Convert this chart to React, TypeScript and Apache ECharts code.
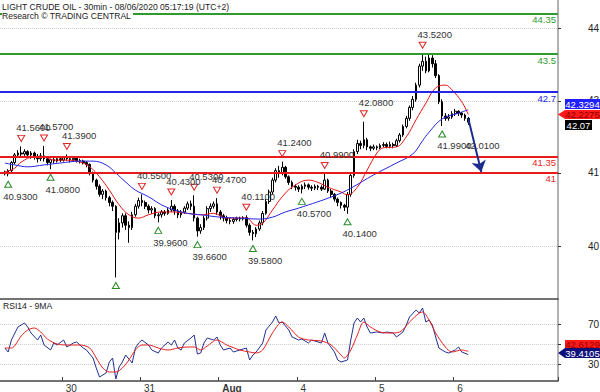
import React, { useEffect, useRef } from "react";
import * as echarts from "echarts";

// ---------- axes / categories ----------
const slotCount = 171;
const dayLabels = ["30", "31", "Aug", "4", "5", "6"];
const dayStarts = [19, 43, 67, 91, 115, 139];
const firstBar = 1;

const priceMin = 38.347;
const priceMax = 44.642;
const priceTickValues = [39.46, 41.0, 42.52, 44.05];
const priceTickLabels = ["40", "41", "43", "44"];

const rsiMin = 13;
const rsiMax = 95;
const rsiTickValues = [30, 50, 70];
const rsiLabelValues = [30, 70];

// ---------- price bars (hourly) ----------
const opens = [
  41.02, 40.98, 41.05, 41.22, 41.38, 41.42, 41.4, 41.45, 41.38, 41.42,
  41.35, 41.3, 41.36, 41.3, 41.22, 41.28, 41.25, 41.3, 41.27, 41.32,
  41.3, 41.28, 41.31, 41.26, 41.25, 41.22, 41.18, 41.0, 40.85, 40.72,
  40.55, 40.62, 40.48, 40.38, 40.3, 39.75, 39.95, 40.1, 39.9, 39.85,
  40.12, 40.3, 40.42, 40.38, 40.3, 40.22, 40.25, 40.1, 40.12, 40.18,
  40.15, 40.22, 40.3, 40.2, 40.12, 40.18, 40.26, 40.35, 40.3, 40.05,
  39.78, 39.85, 40.05, 40.25, 40.3, 40.35, 40.18, 40.1, 40.05, 40.0,
  39.98, 40.02, 40.05, 40.03, 40.06, 39.9, 39.75, 39.72, 39.82, 39.95,
  40.15, 40.4, 40.6, 40.85, 41.05, 41.0, 41.12, 40.92, 40.8, 40.72,
  40.7, 40.66, 40.72, 40.75, 40.7, 40.68, 40.72, 40.7, 40.66, 40.85,
  40.62, 40.55, 40.45, 40.38, 40.32, 40.28, 40.55, 40.95, 41.45, 41.62,
  41.58, 41.7, 41.55, 41.52, 41.55, 41.53, 41.58, 41.6, 41.56, 41.6,
  41.58, 41.68, 41.8, 41.98, 42.15, 42.38, 42.55, 42.85, 43.25, 43.35,
  43.15, 43.42, 43.3, 43.05, 42.5, 42.2, 42.15, 42.18, 42.25, 42.3,
  42.26, 42.22, 42.15,
];
const closes = [
  40.98, 41.05, 41.22, 41.38, 41.42, 41.4, 41.45, 41.38, 41.42, 41.35,
  41.3, 41.36, 41.3, 41.22, 41.28, 41.25, 41.3, 41.27, 41.32, 41.3,
  41.28, 41.31, 41.26, 41.25, 41.22, 41.18, 41.0, 40.85, 40.72, 40.55,
  40.62, 40.48, 40.38, 40.3, 39.75, 39.95, 40.1, 39.9, 39.85, 40.12,
  40.3, 40.42, 40.38, 40.3, 40.22, 40.25, 40.1, 40.12, 40.18, 40.15,
  40.22, 40.3, 40.2, 40.12, 40.18, 40.26, 40.35, 40.3, 40.05, 39.78,
  39.85, 40.05, 40.25, 40.3, 40.35, 40.18, 40.1, 40.05, 40.0, 39.98,
  40.02, 40.05, 40.03, 40.06, 39.9, 39.75, 39.72, 39.82, 39.95, 40.15,
  40.4, 40.6, 40.85, 41.05, 41.0, 41.12, 40.92, 40.8, 40.72, 40.7,
  40.66, 40.72, 40.75, 40.7, 40.68, 40.72, 40.7, 40.66, 40.85, 40.62,
  40.55, 40.45, 40.38, 40.32, 40.28, 40.55, 40.95, 41.45, 41.62, 41.58,
  41.7, 41.55, 41.52, 41.55, 41.53, 41.58, 41.6, 41.56, 41.6, 41.58,
  41.68, 41.8, 41.98, 42.15, 42.38, 42.55, 42.85, 43.25, 43.35, 43.15,
  43.42, 43.3, 43.05, 42.5, 42.2, 42.15, 42.18, 42.25, 42.3, 42.26,
  42.22, 42.15, 42.07,
];
const lows = [
  40.95, 40.93, 41.02, 41.18, 41.32, 41.33, 41.36, 41.33, 41.3, 41.28,
  41.22, 41.25, 41.24, 41.16, 41.08, 41.2, 41.22, 41.23, 41.24, 41.26,
  41.22, 41.24, 41.22, 41.2, 41.18, 41.12, 40.95, 40.8, 40.65, 40.5,
  40.45, 40.42, 40.3, 40.2, 38.8, 39.6, 39.85, 39.8, 39.53, 39.8,
  40.08, 40.25, 40.3, 40.24, 40.15, 40.14, 40.05, 39.96, 40.06, 40.1,
  40.12, 40.18, 40.12, 40.05, 40.06, 40.14, 40.22, 40.22, 39.98, 39.66,
  39.72, 39.8, 40.0, 40.18, 40.25, 40.12, 40.02, 39.98, 39.94, 39.92,
  39.93, 39.98, 39.98, 40.0, 39.85, 39.68, 39.58, 39.65, 39.78, 39.9,
  40.12, 40.35, 40.55, 40.8, 40.9, 40.95, 40.88, 40.75, 40.66, 40.63,
  40.6, 40.57, 40.66, 40.65, 40.62, 40.64, 40.64, 40.62, 40.64, 40.58,
  40.48, 40.4, 40.3, 40.25, 40.2, 40.14, 40.5, 40.9, 41.4, 41.5,
  41.52, 41.48, 41.46, 41.48, 41.48, 41.5, 41.54, 41.52, 41.52, 41.52,
  41.55, 41.64, 41.76, 41.94, 42.1, 42.32, 42.5, 42.8, 43.15, 43.1,
  43.12, 43.22, 43.0, 42.45, 41.99, 42.1, 42.1, 42.14, 42.2, 42.2,
  42.16, 42.1, 42.01,
];
const highs = [
  41.05, 41.08, 41.25, 41.42, 41.48, 41.56, 41.5, 41.48, 41.46, 41.45,
  41.4, 41.42, 41.57, 41.34, 41.3, 41.33, 41.34, 41.33, 41.35, 41.39,
  41.33, 41.34, 41.33, 41.3, 41.28, 41.25, 41.2, 41.03, 40.88, 40.76,
  40.66, 40.65, 40.52, 40.42, 40.32, 40.05, 40.15, 40.15, 39.98, 40.18,
  40.35, 40.48, 40.55, 40.42, 40.34, 40.3, 40.28, 40.16, 40.22, 40.22,
  40.26, 40.43, 40.34, 40.24, 40.22, 40.3, 40.4, 40.42, 40.53, 40.08,
  39.92, 40.1, 40.3, 40.36, 40.4, 40.47, 40.22, 40.14, 40.1, 40.05,
  40.06, 40.08, 40.08, 40.09, 40.11, 39.94, 39.8, 39.86, 40.0, 40.2,
  40.45, 40.65, 40.9, 41.1, 41.15, 41.24, 41.15, 40.95, 40.84, 40.76,
  40.74, 40.76, 40.8, 40.78, 40.74, 40.76, 40.75, 40.74, 40.99, 40.88,
  40.66, 40.58, 40.48, 40.4, 40.35, 40.6, 41.0, 41.5, 41.7, 41.68,
  42.08, 41.74, 41.58, 41.6, 41.58, 41.62, 41.65, 41.64, 41.66, 41.64,
  41.72, 41.84, 42.02, 42.2, 42.42, 42.62, 42.9, 43.3, 43.52, 43.45,
  43.5, 43.48, 43.38, 43.08, 42.55, 42.26, 42.24, 42.3, 42.35, 42.32,
  42.28, 42.25, 42.18,
];

// ---------- moving averages [slot, value] ----------
const redMa = [
  [1, 41.02], [4, 41.1], [6, 41.23], [10, 41.34], [13, 41.34], [16, 41.27], [20, 41.27],
  [24, 41.23], [27, 41.13], [30, 40.92], [33, 40.64], [36, 40.33], [39, 40.12], [42, 40.05],
  [45, 40.12], [49, 40.18], [52, 40.18], [57, 40.15], [61, 40.12], [65, 40.15], [69, 40.05],
  [73, 40.05], [75, 40.05], [78, 39.9], [80, 39.94], [83, 40.22], [86, 40.5], [89, 40.7],
  [94, 40.85], [97, 40.8], [100, 40.7], [104, 40.6], [106, 40.54], [109, 40.7], [112, 41.06],
  [115, 41.42], [117, 41.53], [121, 41.55], [124, 41.76], [127, 42.12], [130, 42.47],
  [133, 42.79], [136, 42.85], [138, 42.75], [141, 42.5], [143, 42.23],
];
const blueMa = [
  [1, 41.21], [4, 41.17], [8, 41.13], [13, 41.17], [18, 41.21], [24, 41.25], [28, 41.25],
  [32, 41.17], [35, 41.0], [38, 40.81], [41, 40.64], [45, 40.5], [49, 40.33], [53, 40.22],
  [57, 40.15], [61, 40.12], [67, 40.07], [73, 40.05], [79, 40.03], [83, 40.07], [87, 40.18],
  [91, 40.26], [102, 40.52], [107, 40.68], [114, 40.96], [121, 41.21], [126, 41.4],
  [129, 41.68], [131, 41.86], [135, 42.14], [140, 42.26], [143, 42.33],
];

// ---------- RSI14 and its 9MA [slot, value] ----------
const rsi14 = [
  [1, 46], [2, 42], [3, 54], [5, 67], [7, 71], [8, 67], [9, 61], [11, 54], [12, 59], [13, 49],
  [15, 44], [16, 51], [17, 49], [19, 54], [20, 47], [22, 51], [23, 52], [25, 46], [26, 44],
  [28, 36], [29, 26], [30, 17], [32, 21], [33, 32], [34, 36], [35, 15], [36, 27], [37, 32],
  [38, 39], [39, 35], [40, 31], [41, 46], [42, 51], [43, 54], [45, 49], [46, 44], [48, 41],
  [49, 46], [51, 52], [52, 49], [53, 54], [54, 46], [55, 44], [56, 51], [58, 56], [59, 59],
  [60, 40], [61, 41], [62, 51], [63, 56], [65, 54], [66, 57], [67, 49], [68, 44], [70, 46],
  [71, 42], [73, 44], [75, 46], [76, 34], [77, 39], [78, 42], [80, 51], [81, 64], [83, 72],
  [84, 78], [85, 71], [86, 72], [88, 64], [89, 57], [91, 54], [92, 55], [94, 51], [95, 54],
  [98, 51], [99, 61], [100, 51], [102, 42], [103, 34], [104, 32], [106, 34], [107, 54],
  [108, 71], [109, 76], [110, 72], [111, 76], [112, 67], [113, 61], [115, 62], [117, 61],
  [118, 62], [120, 61], [121, 57], [123, 62], [124, 69], [125, 77], [127, 84], [128, 81],
  [129, 86], [130, 72], [131, 74], [132, 69], [133, 57], [134, 46], [136, 42], [137, 41],
  [139, 44], [140, 47], [141, 42], [143, 39.41],
];
const rsiMa9 = [
  [1, 46], [3, 46], [6, 58], [8, 64], [10, 66], [12, 62], [14, 55], [17, 50], [20, 49],
  [24, 49], [27, 46], [29, 36], [31, 26], [33, 22], [35, 22], [37, 26], [39, 34], [41, 44],
  [43, 49], [45, 49], [48, 46], [51, 44], [54, 46], [57, 47], [59, 47], [61, 44], [63, 48],
  [66, 54], [69, 49], [73, 44], [76, 42], [78, 41], [80, 44], [83, 61], [86, 72], [88, 67],
  [91, 57], [94, 54], [98, 53], [101, 49], [104, 39], [105, 36], [107, 44], [109, 59],
  [111, 72], [113, 67], [116, 62], [119, 61], [122, 62], [125, 72], [128, 81], [129, 82],
  [131, 74], [133, 61], [136, 47], [138, 42], [141, 44], [143, 42.61],
];

// ---------- annotations ----------
const highMarkers = [
  [6, 41.56], [13, 41.57], [20, 41.39], [43, 40.55], [52, 40.43], [59, 40.53], [66, 40.47],
  [75, 40.11], [86, 41.24], [99, 40.99], [111, 42.08], [129, 43.52],
];
const lowMarkers = [
  [2, 40.93], [15, 41.08], [48, 39.96], [60, 39.66], [77, 39.58], [92, 40.57], [106, 40.14],
  [135, 41.99],
];
const unlabeledLows = [[35, 38.8]];
const hiddenLows = [[143, 42.01]];

const levelValues = [44.35, 43.5, 42.7, 41.35, 41];
const levelLabels = ["44.35", "43.5", "42.7", "41.35", "41"];
const levelColors = ["#2f9a2f", "#2f9a2f", "#2424e8", "#e81c1c", "#e81c1c"];

const forecastFrom = [143, 42.15];
const forecastTo = [147, 41.02];

const priceBoxLabels = ["42.3294", "42.2275", "42.07"];
const rsiBoxLabels = ["42.6129", "39.4105"];

const titleLine1 = "LIGHT CRUDE OIL - 30min - 08/06/2020 05:17:19 (UTC+2)";
const titleLine2 = "Research \u00A9 TRADING CENTRAL";
const rsiTitle = "RSI14 - 9MA";

const FONT = "'Liberation Sans', Arial, sans-serif";
const DOWN_TRI = "path://M0,0 L8,0 L4,7 Z";
const UP_TRI = "path://M4,0 L8,7 L0,7 Z";

function nearestLabel(v: number): string {
  let best = 0;
  for (let i = 1; i < priceTickValues.length; i++) {
    if (Math.abs(priceTickValues[i] - v) < Math.abs(priceTickValues[best] - v)) best = i;
  }
  return priceTickLabels[best];
}

export default function App() {
  const ref = useRef<HTMLDivElement>(null);

  useEffect(() => {
    if (!ref.current) return;
    const chart = echarts.init(ref.current, null, { renderer: "svg" });

    const categories = Array.from({ length: slotCount }, (_, i) => "s" + i);
    const isDay = (i: number) => dayStarts.indexOf(i) >= 0;

    const bars = opens.map((o, i) => [firstBar + i, o, closes[i], lows[i], highs[i]]);

    const markerLabel = {
      show: true,
      position: "inside",
      align: "left",
      color: "#333",
      fontSize: 9.5,
      fontFamily: FONT,
    };

    const markPoints: any[] = [];
    highMarkers.forEach(([k, v]) => {
      markPoints.push({
        coord: [k, v],
        value: v,
        symbol: DOWN_TRI,
        symbolSize: [7, 6],
        symbolOffset: [0, -8],
        itemStyle: { color: "#fff", borderColor: "#e02828", borderWidth: 1 },
        label: { ...markerLabel, formatter: v.toFixed(4), offset: [-5, -11] },
      });
    });
    lowMarkers.forEach(([k, v]) => {
      markPoints.push({
        coord: [k, v],
        value: v,
        symbol: UP_TRI,
        symbolSize: [7, 6],
        symbolOffset: [0, 8],
        itemStyle: { color: "#fff", borderColor: "#2a8a2a", borderWidth: 1 },
        label: { ...markerLabel, formatter: v.toFixed(4), offset: [-5, 12] },
      });
    });
    unlabeledLows.forEach(([k, v]) => {
      markPoints.push({
        coord: [k, v],
        value: v,
        symbol: UP_TRI,
        symbolSize: [7, 6],
        symbolOffset: [0, 8],
        itemStyle: { color: "#fff", borderColor: "#2a8a2a", borderWidth: 1 },
        label: { show: false },
      });
    });
    hiddenLows.forEach(([k, v]) => {
      markPoints.push({
        coord: [k, v],
        value: v,
        symbol: "circle",
        symbolSize: 1,
        symbolOffset: [0, 8],
        itemStyle: { color: "rgba(0,0,0,0)", borderColor: "rgba(0,0,0,0)" },
        label: { ...markerLabel, formatter: v.toFixed(4), offset: [-3, 12] },
      });
    });

    const text = (t: string, x: number, y: number, extra: any = {}) => ({
      type: "text",
      x,
      y,
      z: 100,
      style: {
        text: t,
        fill: "#222",
        fontSize: 8.6,
        fontFamily: FONT,
        ...extra,
      },
    });
    const box = (x: number, y: number, w: number, h: number, fill: string) => ({
      type: "rect",
      z: 100,
      shape: { x, y, width: w, height: h },
      style: { fill },
    });
    const centered = (t: string, x: number, y: number, fill: string) =>
      text(t, x, y, {
        fill,
        fontSize: 9.5,
        align: "center",
        verticalAlign: "middle",
        textAlign: "center",
        textVerticalAlign: "middle",
      });

    const option: any = {
      animation: false,
      textStyle: { fontFamily: FONT },
      grid: [
        { left: 0, right: 42, top: 0, height: 299, outerBoundsMode: "none" },
        { left: 0, right: 42, top: 299, height: 82, outerBoundsMode: "none" },
      ],
      xAxis: [
        {
          type: "category",
          gridIndex: 0,
          data: categories,
          boundaryGap: true,
          axisLine: { show: true, lineStyle: { color: "#444", width: 1.5 } },
          axisTick: { show: false },
          axisLabel: { show: false },
          splitLine: { show: false },
        },
        {
          type: "category",
          gridIndex: 1,
          data: categories,
          boundaryGap: true,
          axisLine: { show: true, lineStyle: { color: "#444", width: 1.5 } },
          axisTick: {
            show: true,
            inside: true,
            length: 4,
            interval: (i: number) => isDay(i),
            lineStyle: { color: "#444" },
          },
          axisLabel: {
            show: true,
            interval: (i: number) => isDay(i),
            formatter: (_v: string, i: number) => {
              const d = dayStarts.indexOf(i);
              if (d < 0) return "";
              return dayLabels[d] === "Aug" ? "{b|Aug}" : dayLabels[d];
            },
            align: "left",
            padding: [0, 0, 0, 2],
            margin: 2,
            fontSize: 10,
            color: "#333",
            rich: { b: { fontWeight: "bold", fontSize: 10, color: "#333" } },
          },
          splitLine: { show: false },
        },
      ],
      yAxis: [
        {
          type: "value",
          gridIndex: 0,
          position: "right",
          min: priceMin,
          max: priceMax,
          axisLine: { show: true, lineStyle: { color: "#999", width: 1.5 } },
          axisTick: {
            show: true,
            length: 3,
            customValues: priceTickValues,
            lineStyle: { color: "#333" },
          },
          axisLabel: {
            show: true,
            customValues: priceTickValues,
            formatter: (v: number) => nearestLabel(v),
            margin: 30,
            fontSize: 10,
            color: "#222",
          },
          splitLine: { show: true, lineStyle: { color: "#cfcfcf", type: "dotted", width: 1 } },
        },
        {
          type: "value",
          gridIndex: 1,
          position: "right",
          min: rsiMin,
          max: rsiMax,
          axisLine: { show: true, lineStyle: { color: "#999", width: 1.5 } },
          axisTick: {
            show: true,
            length: 3,
            customValues: rsiTickValues,
            lineStyle: { color: "#333" },
          },
          axisLabel: {
            show: true,
            customValues: rsiLabelValues,
            margin: 30,
            fontSize: 10,
            color: "#222",
          },
          splitLine: { show: true, lineStyle: { color: "#cfcfcf", type: "dotted", width: 1 } },
        },
      ],
      series: [
        {
          type: "candlestick",
          xAxisIndex: 0,
          yAxisIndex: 0,
          data: bars,
          encode: { x: 0, y: [1, 2, 3, 4] },
          barWidth: "65%",
          itemStyle: {
            color: "#ffffff",
            color0: "#000000",
            borderColor: "#000000",
            borderColor0: "#000000",
            borderWidth: 1,
          },
          markLine: {
            silent: true,
            symbol: ["none", "none"],
            data: levelValues.map((v, i) => ({
              yAxis: v,
              lineStyle: { color: levelColors[i], width: 2, type: "solid" },
              label: {
                show: true,
                position: "insideEndBottom",
                formatter: levelLabels[i],
                color: levelColors[i],
                fontSize: 9.5,
                distance: [2, 1],
              },
            })),
          },
          markPoint: { silent: true, data: markPoints },
        },
        {
          type: "line",
          name: "MA fast",
          xAxisIndex: 0,
          yAxisIndex: 0,
          data: redMa,
          showSymbol: false,
          smooth: 0.4,
          lineStyle: { color: "#e81414", width: 1 },
          z: 3,
        },
        {
          type: "line",
          name: "MA slow",
          xAxisIndex: 0,
          yAxisIndex: 0,
          data: blueMa,
          showSymbol: false,
          smooth: 0.4,
          lineStyle: { color: "#2626e6", width: 1 },
          z: 3,
          markLine: {
            silent: true,
            symbol: ["none", "arrow"],
            symbolSize: 11,
            lineStyle: { color: "#1b2c8f", width: 2, type: "solid" },
            label: { show: false },
            data: [[{ coord: forecastFrom }, { coord: forecastTo }]],
          },
        },
        {
          type: "line",
          name: "RSI14",
          xAxisIndex: 1,
          yAxisIndex: 1,
          data: rsi14,
          showSymbol: false,
          lineStyle: { color: "#23308f", width: 1 },
        },
        {
          type: "line",
          name: "9MA",
          xAxisIndex: 1,
          yAxisIndex: 1,
          data: rsiMa9,
          showSymbol: false,
          smooth: 0.3,
          lineStyle: { color: "#e82020", width: 1 },
        },
      ],
      graphic: [
        text(titleLine1, 2, 2.5, { backgroundColor: "#fff" }),
        text(titleLine2, 2, 11.5, { backgroundColor: "#fff", padding: [0, 2, 0, 0] }),
        text(rsiTitle, 3, 301),
        box(565, 99, 35, 10, "#1f1fff"),
        centered(priceBoxLabels[0], 582.5, 104, "#ffffff"),
        {
          type: "polygon",
          z: 100,
          shape: { points: [[558, 114.5], [565, 110], [565, 119]] },
          style: { fill: "#ff1a1a" },
        },
        box(565, 110, 35, 9, "#ff1a1a"),
        centered(priceBoxLabels[1], 582.5, 114.5, "#8a0000"),
        box(565, 120, 27, 10, "#000000"),
        centered(priceBoxLabels[2], 578.5, 125, "#ffffff"),
        box(565, 340, 35, 8, "#ff1a1a"),
        centered(rsiBoxLabels[0], 582.5, 344, "#8a0000"),
        {
          type: "polygon",
          z: 100,
          shape: { points: [[558, 353], [565, 348], [565, 358]] },
          style: { fill: "#10107a" },
        },
        box(565, 348, 35, 10, "#10107a"),
        centered(rsiBoxLabels[1], 582.5, 353, "#ffffff"),
      ],
    };

    chart.setOption(option);
    return () => chart.dispose();
  }, []);

  return (
    <div
      ref={ref}
      style={{ position: "fixed", left: 0, top: 0, width: 600, height: 392, background: "#fff" }}
    />
  );
}
